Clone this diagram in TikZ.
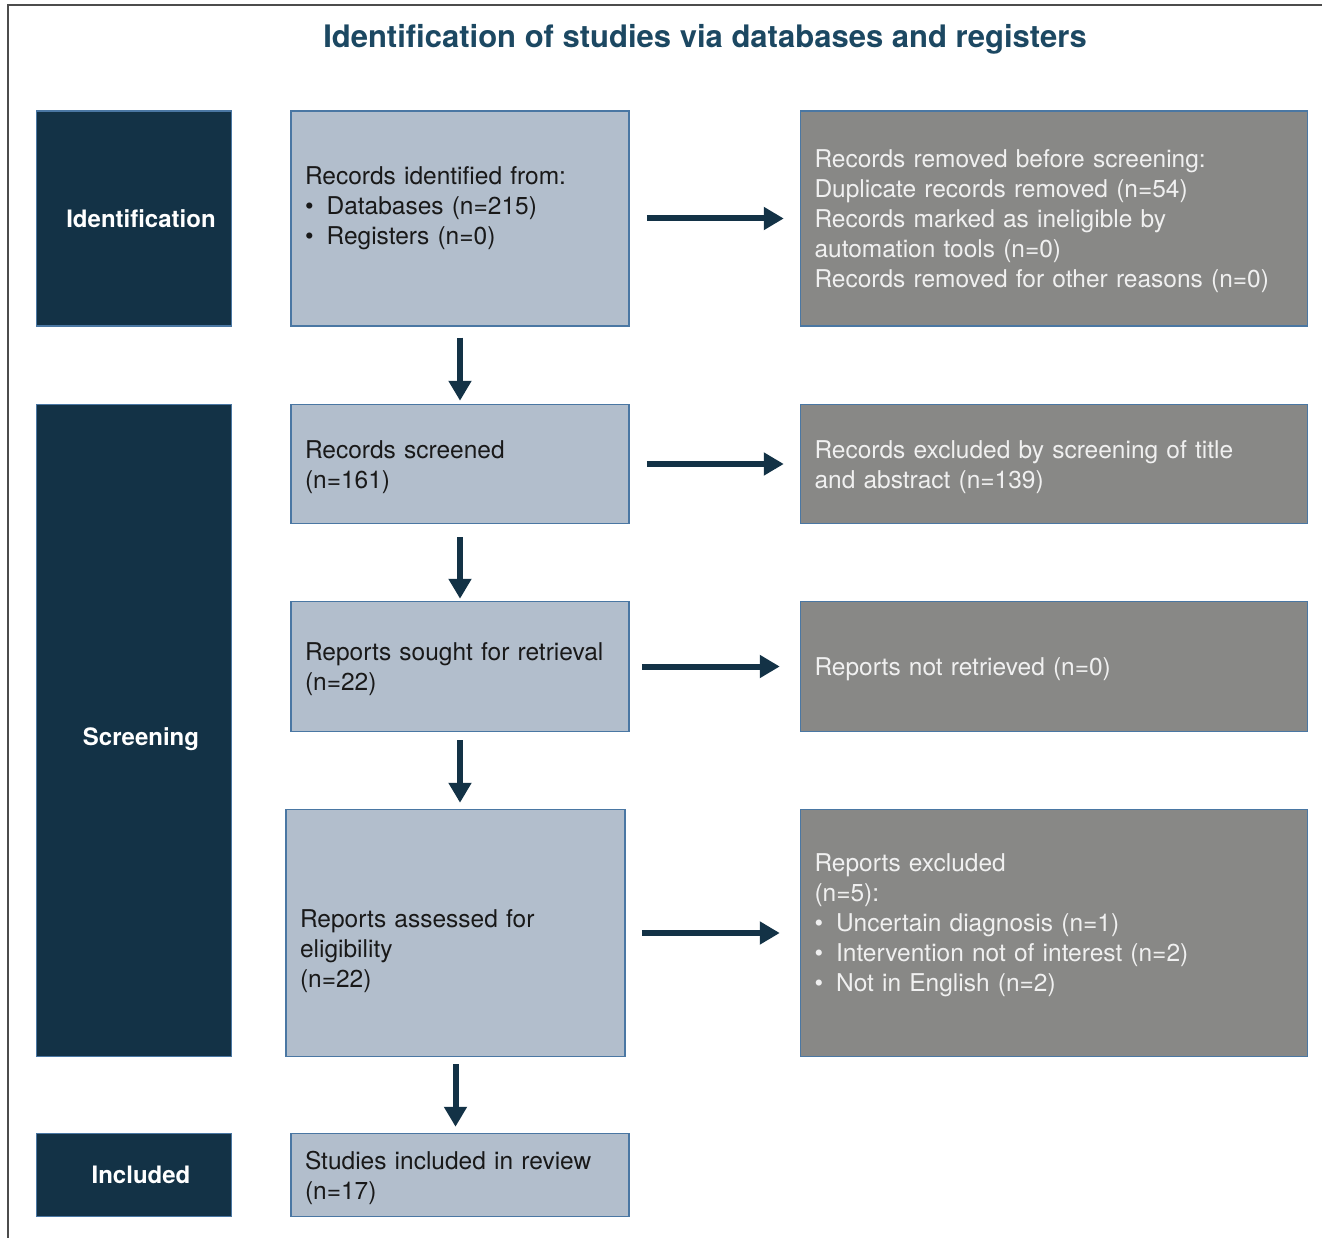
\documentclass[tikz,border=0pt]{standalone}
\usepackage{fontspec}
\setmainfont{TeX Gyre Heros}
\usetikzlibrary{positioning,arrows.meta}

\definecolor{navy}{RGB}{19,50,70}
\definecolor{lightbox}{RGB}{178,190,204}
\definecolor{greybox}{RGB}{136,136,134}
\definecolor{edge}{RGB}{74,119,163}
\definecolor{headcol}{RGB}{28,72,98}

\newcommand{\itemdot}{\textbullet\hspace{13pt}}
\newcommand{\padbelow}[1]{\rule[-#1]{0pt}{#1}}

\begin{document}
\begin{tikzpicture}[x=1pt, y=-1pt,
	stage/.style = { draw=edge, line width=1.5pt, fill=navy, text=white,
			minimum width=195pt, font=\fontsize{24}{28}\selectfont\bfseries,
			execute at begin node=\hspace*{14pt} },
	pale/.style = { draw=edge, line width=1.5pt, fill=lightbox,
			text=black!90, align=left, inner xsep=14pt, text width=310pt,
			font=\fontsize{24.5}{30}\selectfont,
			execute at begin node=\rule{0pt}{24pt} },
	grey/.style = { pale, fill=greybox, text=white!94!black, text width=479pt },
	flow/.style = { -{Triangle[length=20pt,width=22pt]}, line width=6pt,
			draw=navy }]

  \useasboundingbox (0,0) rectangle (1322,1238);
  \draw[line width=1.5pt, black!70] (8,1238) -- (8,5) -- (1322,5);

  \node[name=title, font=\fontsize{31}{36}\selectfont\bfseries, text=headcol]
	at (705,39) {Identification of studies via databases and registers};

  \node[name=rec, pale, minimum height=215pt] at (460,218.5)
	{Records identified from:\\ \itemdot Databases (n=215)\\
	 \itemdot Registers (n=0)\padbelow{31pt}};
  \node[name=scrd, pale, minimum height=119pt, below=77pt of rec]
	{Records screened\\ (n=161)};
  \node[name=sought, pale, minimum height=130pt, below=76.5pt of scrd]
	{Reports sought for retrieval\\ (n=22)};
  \node[name=assess, pale, text width=311pt, minimum height=247pt,
	below=76.5pt of sought, xshift=-4.5pt]
	{\strut\\ Reports assessed for\\ eligibility\\ (n=22)};
  \node[name=incl, pale, minimum height=83pt, below=75.5pt of assess,
	xshift=4.5pt] {Studies included in review\\ (n=17)};

  \node[name=rm, grey, minimum height=215pt, right=170pt of rec]
	{Records removed before screening:\\ Duplicate records removed (n=54)\\
	 Records marked as ineligible by\\ automation tools (n=0)\\
	 Records removed for other reasons (n=0)};
  \node[name=excl, grey, minimum height=119pt, right=170pt of scrd]
	{Records excluded by screening of title\\ and abstract (n=139)};
  \node[name=notret, grey, minimum height=130pt, right=170pt of sought]
	{Reports not retrieved (n=0)};
  \node[name=repex, grey, minimum height=247pt, right=174pt of assess]
	{Reports excluded\\ (n=5):\\ \itemdot Uncertain diagnosis (n=1)\\
	 \itemdot Intervention not of interest (n=2)\\
	 \itemdot Not in English (n=2)\padbelow{28pt}};

  \node[name=ident, stage, minimum height=215pt, left=58pt of rec]
	{Identification};
  \node[name=screen, stage, minimum height=652pt, anchor=north east]
	at ([xshift=-58pt]scrd.north west) {\raisebox{-15pt}[0pt][0pt]{Screening}};
  \node[name=incd, stage, minimum height=83pt, left=58pt of incl]
	{Included};

  \draw[flow, shorten <=17pt, shorten >=16pt] (rec) -- (rm);
  \draw[flow, shorten <=17pt, shorten >=16pt] (scrd) -- (excl);
  \draw[flow, shorten <=12pt, shorten >=20pt] (sought) -- (notret);
  \draw[flow, shorten <=16pt, shorten >=20pt] (assess) -- (repex);

  \draw[flow, shorten <=11pt, shorten >=3pt] (rec) -- (scrd);
  \draw[flow, shorten <=13pt, shorten >=2pt] (scrd) -- (sought);
  \draw[flow, shorten <=8pt, shorten >=6pt] (sought) -- (sought |- assess.north);
  \draw[flow, shorten <=7pt, shorten >=6pt] (assess) -- (assess |- incl.north);
\end{tikzpicture}
\end{document}
